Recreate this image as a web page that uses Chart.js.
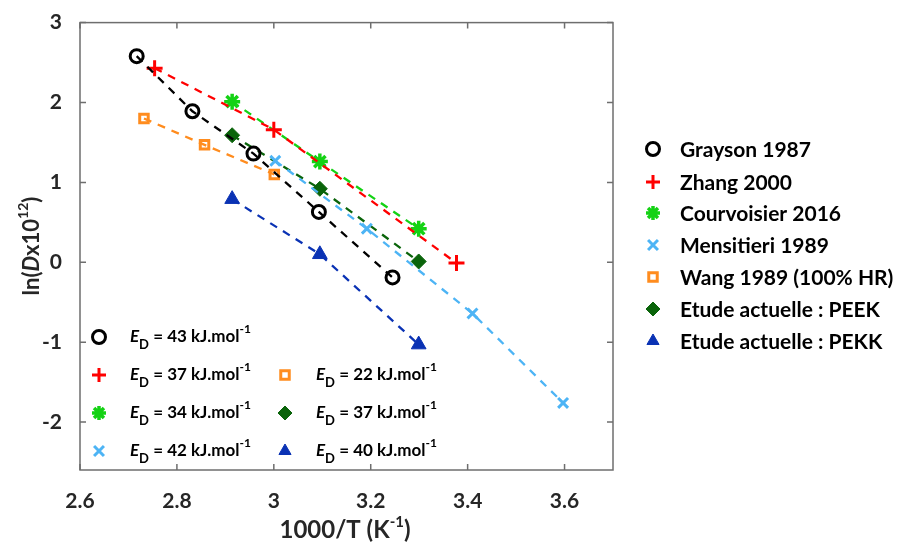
<!DOCTYPE html>
<html>
<head>
<meta charset="utf-8">
<script src="https://cdn.jsdelivr.net/npm/chart.js@4"></script>
<style>
  html, body { margin: 0; padding: 0; background: #fff; }
  #wrap { width: 903px; height: 548px; }
</style>
</head>
<body>
<div id="wrap"><canvas id="chart" width="903" height="548"></canvas></div>
<script>
// ---- data ----
const xTicks = [2.6, 2.8, 3.0, 3.2, 3.4, 3.6];
const yTicks = [-2, -1, 0, 1, 2, 3];

const graysonX = [2.717, 2.832, 2.958, 3.093, 3.245];
const graysonY = [2.58, 1.89, 1.36, 0.63, -0.19];
const zhangX = [2.754, 3.0, 3.377];
const zhangY = [2.43, 1.66, -0.01];
const courvX = [2.914, 3.095, 3.299];
const courvY = [2.01, 1.26, 0.42];
const mensX = [3.003, 3.192, 3.41, 3.597];
const mensY = [1.27, 0.42, -0.64, -1.76];
const wangX = [2.732, 2.857, 3.001];
const wangY = [1.80, 1.47, 1.10];
const peekX = [2.914, 3.095, 3.299];
const peekY = [1.59, 0.92, 0.01];
const pekkX = [2.914, 3.095, 3.299];
const pekkY = [0.79, 0.10, -1.03];

const names = ["Grayson 1987", "Zhang 2000", "Courvoisier 2016", "Mensitieri 1989",
               "Wang 1989 (100% HR)", "Etude actuelle : PEEK", "Etude actuelle : PEKK"];
const energies = [43, 37, 34, 42, 22, 37, 40];

// ---- styles ----
const series = [
  { x: graysonX, y: graysonY, color: "#000000", style: "circle", r: 6.5, bw: 3, fill: false },
  { x: zhangX, y: zhangY, color: "#ff0000", style: "cross", r: 8, bw: 3, fill: false },
  { x: courvX, y: courvY, color: "#14d214", style: "star", r: 8, bw: 3.5, fill: false },
  { x: mensX, y: mensY, color: "#4db4f5", style: "crossRot", r: 7, bw: 3, fill: false },
  { x: wangX, y: wangY, color: "#ff8c1e", style: "rect", r: 6, bw: 3, fill: false },
  { x: peekX, y: peekY, color: "#0a640a", style: "rectRot", r: 7.5, bw: 1, fill: true },
  { x: pekkX, y: pekkY, color: "#0a32b4", style: "triangle", r: 8.5, bw: 1, fill: true }
];

const FONT = "Lato, 'Open Sans', sans-serif";

const datasets = series.map((s, i) => ({
  label: names[i],
  data: s.x.map((v, k) => ({ x: v, y: s.y[k] })),
  showLine: true,
  borderColor: s.color,
  borderWidth: 2.3,
  borderDash: [8, 7],
  pointStyle: s.style,
  pointRadius: s.r,
  pointBorderWidth: s.bw,
  pointBorderColor: s.color,
  pointBackgroundColor: s.fill ? s.color : "rgba(0,0,0,0)",
  pointHoverRadius: s.r
}));

function marker(ctx, s, x, y) {
  ctx.save();
  ctx.strokeStyle = s.color;
  ctx.fillStyle = s.fill ? s.color : "rgba(0,0,0,0)";
  ctx.lineWidth = s.bw;
  Chart.helpers.drawPoint(ctx, { pointStyle: s.style, radius: s.r, rotation: 0, borderWidth: s.bw }, x, y);
  ctx.restore();
}

// E_D = xx kJ.mol-1 with italic E, subscript D, superscript -1
function edLabel(ctx, x, y, val) {
  ctx.save();
  ctx.fillStyle = "#000";
  ctx.textBaseline = "alphabetic";
  ctx.textAlign = "left";
  ctx.font = "italic bold 17px " + FONT;
  ctx.fillText("E", x, y);
  let cx = x + ctx.measureText("E").width;
  ctx.font = "bold 13px " + FONT;
  ctx.fillText("D", cx, y + 7);
  cx += ctx.measureText("D").width;
  ctx.font = "bold 17px " + FONT;
  const t = " = " + val + " kJ.mol";
  ctx.fillText(t, cx, y);
  cx += ctx.measureText(t).width;
  ctx.font = "bold 12px " + FONT;
  ctx.fillText("-1", cx, y - 9);
  ctx.restore();
}

const decor = {
  id: "decor",
  afterDraw(chart) {
    const ctx = chart.ctx;
    const a = chart.chartArea;
    const xs = chart.scales.x, ys = chart.scales.y;
    ctx.save();
    // frame
    ctx.strokeStyle = "#6e6e6e";
    ctx.lineWidth = 1.5;
    ctx.strokeRect(a.left, a.top, a.right - a.left, a.bottom - a.top);
    // inward ticks on all four sides
    ctx.beginPath();
    xTicks.forEach(v => {
      const px = xs.getPixelForValue(v);
      ctx.moveTo(px, a.bottom); ctx.lineTo(px, a.bottom - 6);
      ctx.moveTo(px, a.top); ctx.lineTo(px, a.top + 6);
    });
    yTicks.forEach(v => {
      const py = ys.getPixelForValue(v);
      ctx.moveTo(a.left, py); ctx.lineTo(a.left + 6, py);
      ctx.moveTo(a.right, py); ctx.lineTo(a.right - 6, py);
    });
    ctx.stroke();

    // axis titles
    ctx.fillStyle = "#262626";
    ctx.textBaseline = "alphabetic";
    ctx.textAlign = "left";
    // x title: 1000/T (K^-1)
    const p1 = "1000/T (K", p2 = ")";
    ctx.font = "bold 15px " + FONT;
    const supW = ctx.measureText("-1").width;
    ctx.font = "bold 24px " + FONT;
    const w1 = ctx.measureText(p1).width, w2 = ctx.measureText(p2).width;
    let sx = 345 - (w1 + supW + w2) / 2;
    const ty = 538;
    ctx.fillText(p1, sx, ty);
    ctx.font = "bold 15px " + FONT;
    ctx.fillText("-1", sx + w1, ty - 11);
    ctx.font = "bold 24px " + FONT;
    ctx.fillText(p2, sx + w1 + supW, ty);

    // y title: ln(Dx10^12), rotated
    ctx.save();
    ctx.translate(39, 246);
    ctx.rotate(-Math.PI / 2);
    const parts = [
      ["ln(", "bold 22px", 0],
      ["D", "italic bold 22px", 0],
      ["x10", "bold 22px", 0],
      ["12", "bold 14px", -11],
      [")", "bold 22px", 0]
    ];
    let tw = 0;
    parts.forEach(p => { ctx.font = p[1] + " " + FONT; tw += ctx.measureText(p[0]).width; });
    let cx = -tw / 2;
    parts.forEach(p => {
      ctx.font = p[1] + " " + FONT;
      ctx.fillText(p[0], cx, p[2]);
      cx += ctx.measureText(p[0]).width;
    });
    ctx.restore();

    // right legend
    const legRows = [149, 182, 213, 245, 277, 309, 341];
    series.forEach((s, i) => {
      const ms = Object.assign({}, s, { r: Math.min(s.r, 7) });
      marker(ctx, ms, 653, legRows[i]);
      ctx.fillStyle = "#000";
      ctx.font = "bold 21px " + FONT;
      ctx.textBaseline = "middle";
      ctx.fillText(names[i], 680, legRows[i] + 1);
    });

    // in-plot E_D legend (two columns)
    const edRows = [337, 375, 413, 451];
    const slots = [[99, 0], [99, 1], [99, 2], [99, 3], [285, 1], [285, 2], [285, 3]];
    series.forEach((s, i) => {
      const [mx, row] = slots[i];
      const ms = Object.assign({}, s, { r: Math.min(s.r, 7) });
      marker(ctx, ms, mx, edRows[row]);
      edLabel(ctx, mx + 31, edRows[row] + 5, energies[i]);
    });
    ctx.restore();
  }
};

new Chart(document.getElementById("chart"), {
  type: "scatter",
  data: { datasets },
  options: {
    responsive: false,
    animation: false,
    layout: { padding: { left: 0, right: 290, top: 21, bottom: 0 } },
    plugins: { legend: { display: false }, tooltip: { enabled: false } },
    scales: {
      x: {
        type: "linear",
        min: 2.6,
        max: 3.7,
        afterBuildTicks: s => { s.ticks = xTicks.map(v => ({ value: v })); },
        afterFit: s => { s.height = 78; },
        grid: { display: false },
        border: { display: false },
        ticks: {
          color: "#262626",
          padding: 11,
          font: { family: FONT, size: 21, weight: "bold" },
          callback: v => String(Math.round(v * 10) / 10)
        }
      },
      y: {
        type: "linear",
        min: -2.6,
        max: 3,
        afterBuildTicks: s => { s.ticks = yTicks.map(v => ({ value: v })); },
        afterFit: s => { s.width = 80; },
        grid: { display: false },
        border: { display: false },
        ticks: {
          color: "#262626",
          padding: 10,
          font: { family: FONT, size: 21, weight: "bold" },
          callback: v => String(v)
        }
      }
    }
  },
  plugins: [decor]
});
</script>
</body>
</html>
